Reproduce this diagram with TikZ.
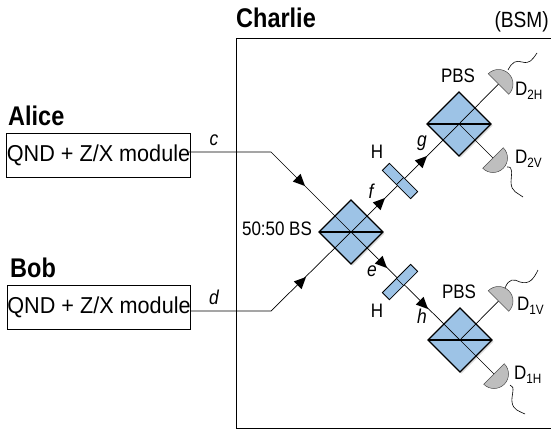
\documentclass[tikz,border=0pt]{standalone}
\usepackage{fontspec}
\setmainfont[FakeStretch=0.87]{Liberation Sans}
\newfontfamily\modfont[FakeStretch=0.94]{Liberation Sans}
\usetikzlibrary{calc}
\definecolor{optblue}{RGB}{157,195,230}
\definecolor{detgray}{RGB}{190,190,190}
\newcommand{\fs}[1]{\fontsize{#1}{#1}\selectfont}
\newcommand{\dlab}[2]{D\raisebox{-4pt}{\fs{13.5}#1#2}}
\tikzset{
  plainbox/.style={draw=black,line width=1pt,inner sep=0pt,rectangle},
  modbox/.style={plainbox,minimum width=181pt,minimum height=44pt,font=\modfont\fs{23},text=black},
  head/.style={font=\fs{27}\bfseries,inner sep=0pt,anchor=base west},
  lab/.style={font=\fs{19.5},inner sep=0pt},
  ital/.style={font=\fs{20}\itshape,inner sep=0pt},
  beam/.style={line width=0.7pt,draw=black},
  cube/.style={fill=optblue,draw=black,line width=1.1pt},
  plate/.style={fill=optblue,draw=black,line width=0.8pt},
  det/.style={fill=detgray,draw=black!70,line width=0.5pt},
  wire/.style={line width=0.6pt,draw=black},
  shadowed/.style={fill=black!14,draw=none}
}
\newcommand{\cubeshape}[1]{%
  \fill[shadowed] ($(#1)+(1.5,1.5)$) ++(-32,0) -- ++(32,32) -- ++(32,-32) -- ++(-32,-32) -- cycle;
  \draw[cube] (#1) ++(-32,0) -- ++(32,32) -- ++(32,-32) -- ++(-32,-32) -- cycle;
}
\newcommand{\cubecross}[1]{\draw[line width=1.1pt] (#1) ++(-32,0) -- ++(64,0);}
\begin{document}
\begin{tikzpicture}[x=1pt,y=-1pt]
\useasboundingbox (0,0) rectangle (551,429);
% coordinates
\coordinate (bs) at (351,232);
\coordinate (pu) at (459,124);
\coordinate (pl) at (460,340);
\coordinate (hu) at (400,181);
\coordinate (hl) at (400,282);
\coordinate (c1) at (271,152);
\coordinate (d1) at (271,311);
\coordinate (d2h) at (498.5,84);
\coordinate (d2v) at (493,158);
\coordinate (d1v) at (498.5,301);
\coordinate (d1h) at (494,374);
% Charlie frame (cut by the right edge of the picture)
\coordinate (ctr) at (551,38);
\coordinate (ctl) at (236,38);
\coordinate (cbl) at (236,428);
\coordinate (cbr) at (551,428);
\draw[line width=1pt] (ctr) -- (ctl) -- (cbl) -- (cbr);
\node[head] (tc) at (236,27) {Charlie};
\node[lab,font=\fs{22},anchor=base east] (tb) at (549,27) {(BSM)};
% modules
\node[modbox] (alice) at (98.5,155) {QND + Z/X module};
\node[modbox] (bob) at (99,307) {QND + Z/X module};
\node[head] (ta) at (8,125) {Alice};
\node[head] (tbb) at (10,277) {Bob};
\coordinate (as) at (189,152);
\coordinate (bt) at (190,311);
% cubes below beams
\cubeshape{bs}\cubeshape{pu}\cubeshape{pl}
% beams
\draw[beam] (as) -- (c1) -- (bs);
\draw[beam] (bt) -- (d1) -- (bs);
\draw[beam] (bs) -- (pl) -- (d1h);
\draw[beam] (bs) -- (pu) -- (d2h);
\draw[beam] (pu) -- (d2v);
\draw[beam] (pl) -- (d1v);
% arrowheads: tip position / direction
\foreach \x/\y/\a in {305/186/45, 306/277/-45, 385/198/-45, 427/156/-45, 387/268/45, 428/309/45}{
  \fill (\x,\y) -- ++(\a+155:13) -- ++(\a-90:11) -- cycle;
}
\cubecross{bs}\cubecross{pu}\cubecross{pl}
% waveplates
\foreach \p/\a in {hu/-45,hl/45}{
  \fill[shadowed,shift={(1.5,1.5)},shift={(\p)},rotate=\a] (-20,-5) rectangle (20,5);
  \draw[plate,shift={(\p)},rotate=\a] (-20,-5) rectangle (20,5);
  \draw[beam,shift={(\p)},rotate=\a] (0,-5) -- (0,5);
}
% detectors
\foreach \p/\a in {d2h/-45,d1v/-45,d2v/-135,d1h/-135}{
  \draw[det,shift={(\p)},rotate=\a] (-14.5,0) arc[start angle=180,end angle=360,radius=14.5] -- cycle;
}
\draw[wire] (508,70) .. controls (512,62) and (516,60) .. (522,62) .. controls (530,64) and (532,60) .. (537,53);
\draw[wire] (507,167) .. controls (514,166) and (511,175) .. (511,182) .. controls (511,192) and (518,193) .. (523,197);
\draw[wire] (505,288) .. controls (509,278) and (514,279) .. (520,282) .. controls (530,285) and (534,278) .. (538,270);
\draw[wire] (510,385) .. controls (516,386) and (511,396) .. (512,402) .. controls (513,410) and (519,411) .. (525,414);
% labels
\node[ital] (lc) at (214,140) {c};
\node[ital] (ld) at (214,297) {d};
\node[ital] (le) at (372,271) {e};
\node[ital] (lf) at (371,191) {f};
\node[ital] (lg) at (422,143) {g};
\node[ital] (lh) at (422,316) {h};
\node[lab] (lh1) at (377,152) {H};
\node[lab] (lh2) at (377,311) {H};
\node[lab] (lbs) at (277,229) {50:50 BS};
\node[lab] (lp1) at (458,76) {PBS};
\node[lab] (lp2) at (459,292) {PBS};
\node[lab,anchor=base west] (d2ht) at (515,95) {\dlab{2}{H}};
\node[lab,anchor=base west] (d2vt) at (515,163) {\dlab{2}{V}};
\node[lab,anchor=base west] (d1vt) at (517,310) {\dlab{1}{V}};
\node[lab,anchor=base west] (d1ht) at (514,379) {\dlab{1}{H}};
\end{tikzpicture}
\end{document}
